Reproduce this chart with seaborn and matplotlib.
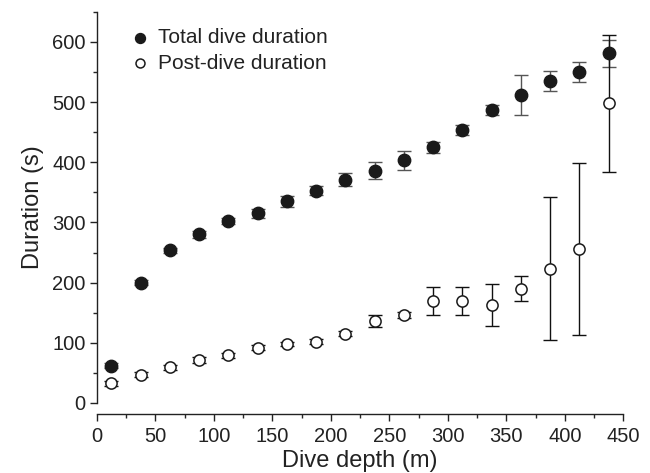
import numpy as np
import pandas as pd
import matplotlib
matplotlib.use("Agg")
import matplotlib.pyplot as plt
from matplotlib.ticker import MultipleLocator
import seaborn as sns

depth = [12.5, 37.5, 62.5, 87.5, 112.5, 137.5, 162.5, 187.5, 212.5,
         237.5, 262.5, 287.5, 312.5, 337.5, 362.5, 387.5, 412.5, 437.5]
total = [62, 200, 254, 280, 302, 315, 335, 353, 371,
         386, 403, 425, 454, 487, 512, 535, 550, 581]
total_err = [4, 4, 4, 5, 5, 7, 9, 8, 11,
             14, 16, 9, 8, 8, 33, 17, 17, 23]
post = [33, 47, 59, 72, 79, 92, 98, 102, 115,
        136, 147, 169, 169, 163, 190, 223, 256, 498]
post_err = [4, 4, 4, 5, 4, 4, 4, 4, 4,
            10, 5, 23, 23, 35, 21, 119, 143, 114]

df = pd.DataFrame({"depth": depth, "total": total, "total_err": total_err,
                   "post": post, "post_err": post_err})

sns.set_style("ticks")
plt.rcParams["font.family"] = ["Liberation Sans", "DejaVu Sans"]

fig = plt.figure(figsize=(6.5, 4.73), dpi=100)
ax = fig.add_axes([0.149, 0.148, 0.81, 0.827])

ax.errorbar(df["depth"], df["total"], yerr=df["total_err"], fmt="none",
            ecolor="#555555", elinewidth=1, capsize=5, capthick=1, zorder=2)
ax.errorbar(df["depth"], df["post"], yerr=df["post_err"], fmt="none",
            ecolor="#111111", elinewidth=1, capsize=5, capthick=1, zorder=2)

sns.scatterplot(data=df, x="depth", y="total", ax=ax, color="#1a1a1a",
                edgecolor="#1a1a1a", s=80, linewidth=1, zorder=3,
                label="Total dive duration")
sns.scatterplot(data=df, x="depth", y="post", ax=ax, facecolor="white",
                edgecolor="#1a1a1a", s=65, linewidth=1.1, zorder=3,
                label="Post-dive duration")

ax.set_xlim(0, 450)
ax.set_ylim(0, 650)
ax.set_xticks(np.arange(0, 451, 50))
ax.set_yticks(np.arange(0, 601, 100))
ax.xaxis.set_minor_locator(MultipleLocator(25))
ax.yaxis.set_minor_locator(MultipleLocator(50))
ax.tick_params(axis="both", which="major", direction="out", length=5,
               width=1, labelsize=14.5, colors="#222222")
ax.tick_params(axis="both", which="minor", direction="out", length=3, width=1)
ax.tick_params(axis="y", pad=3)
ax.tick_params(axis="x", pad=4)

sns.despine(ax=ax)
ax.spines["bottom"].set_position(("outward", 8))
for s in ["left", "bottom"]:
    ax.spines[s].set_linewidth(1)
    ax.spines[s].set_color("#222222")

ax.set_xlabel("Dive depth (m)", fontsize=17, color="#222222", labelpad=3)
ax.set_ylabel("Duration (s)", fontsize=17, color="#222222", labelpad=6)

leg = ax.legend(loc="upper left", bbox_to_anchor=(0.018, 1.0), frameon=False,
                fontsize=15, handlelength=1.6, handletextpad=0.1,
                labelspacing=0.3, borderaxespad=0.4, markerscale=0.8)
for t in leg.get_texts():
    t.set_color("#222222")

fig.savefig("out.png", dpi=100)
